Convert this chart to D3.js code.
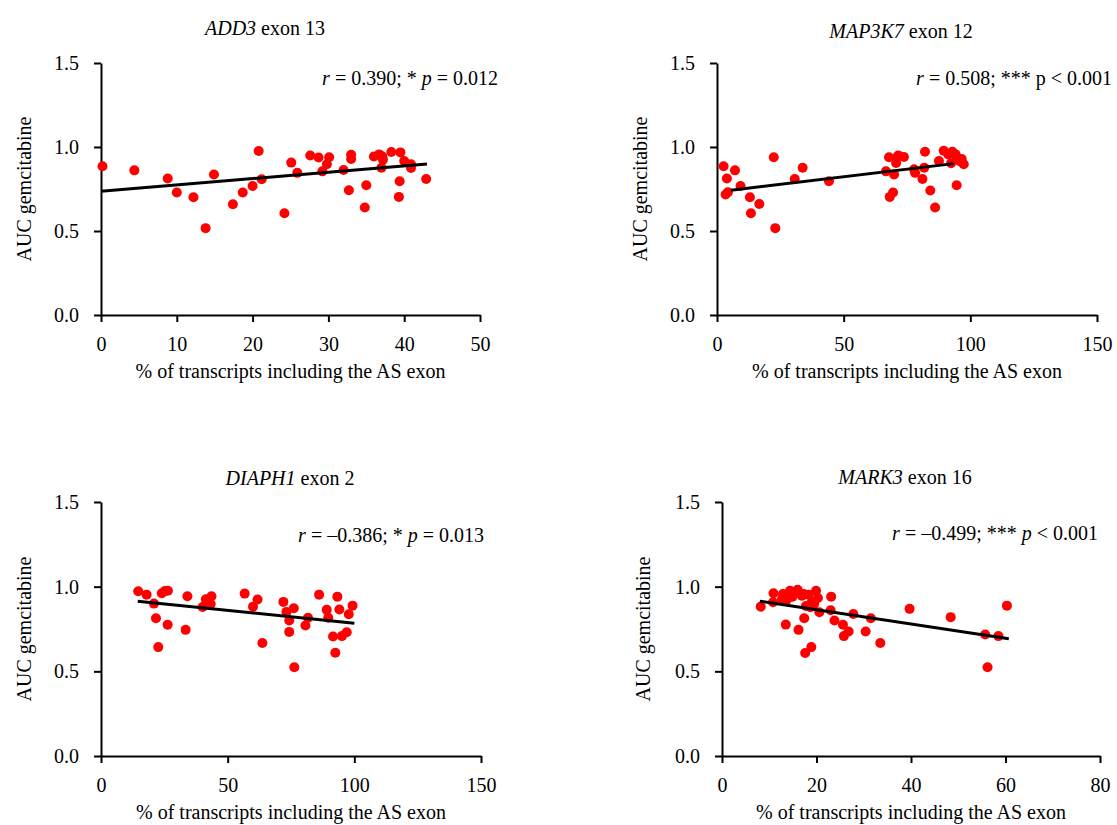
<!DOCTYPE html>
<html>
<head>
<meta charset="utf-8">
<script src="https://cdnjs.cloudflare.com/ajax/libs/d3/7.8.5/d3.min.js"></script>
<style>
body{margin:0;background:#fff;}
svg text{font-family:"Liberation Serif","Times New Roman",serif;font-size:20px;fill:#000;}
</style>
</head>
<body>
<svg width="1117" height="825"></svg>
<script>
// values
var add3_x = [0.2,4.4,8.8,10.0,12.2,13.8,14.9,17.4,18.7,20.0,20.8,21.2,24.2,25.1,25.9,27.6,28.7,29.2,29.8,30.1,32.0,32.7,33.0,33.0,35.0,34.8,36.0,36.7,37.1,37.2,37.0,38.3,39.5,39.4,39.3,40.0,40.9,40.9,42.9]
var add3_y = [0.885,0.861,0.812,0.729,0.701,0.517,0.836,0.659,0.729,0.768,0.976,0.808,0.606,0.907,0.846,0.949,0.937,0.855,0.897,0.939,0.863,0.743,0.954,0.929,0.772,0.640,0.943,0.956,0.945,0.925,0.877,0.970,0.968,0.796,0.703,0.917,0.897,0.875,0.810]
var add3_fit = [0, 0.737, 43, 0.899]

var map3k7_x = [2.6,3.9,3.4,4.3,7.1,9.3,13.0,13.4,16.7,22.4,23.0,30.7,33.8,44.2,66.7,67.9,68.2,69.5,69.9,70.7,71.2,71.6,73.8,77.8,78.2,81.1,81.8,82.1,84.2,86.1,87.6,89.5,91.3,92.4,92.9,94.2,94.7,94.6,95.9,96.6,97.4]
var map3k7_y = [0.885,0.812,0.717,0.731,0.861,0.768,0.701,0.606,0.661,0.939,0.517,0.810,0.877,0.796,0.855,0.939,0.703,0.729,0.836,0.905,0.941,0.950,0.941,0.867,0.846,0.810,0.877,0.972,0.741,0.640,0.917,0.978,0.956,0.903,0.972,0.956,0.937,0.772,0.915,0.929,0.897]
var map3k7_fit = [5.5, 0.743, 93.4, 0.901]

var diaph1_x = [14.7,18.0,20.9,21.7,22.6,24.0,25.3,26.4,26.3,33.4,34.1,40.1,41.4,42.4,43.6,43.3,56.7,60.0,61.8,63.7,72.0,73.2,74.3,74.3,76.1,76.3,80.7,81.7,86.1,89.1,89.7,91.6,92.5,93.3,94.1,95.1,97.0,97.8,99.3]
var diaph1_y = [0.973,0.953,0.900,0.814,0.643,0.961,0.975,0.976,0.775,0.745,0.943,0.880,0.925,0.902,0.943,0.898,0.959,0.882,0.924,0.667,0.910,0.851,0.800,0.733,0.873,0.524,0.771,0.816,0.953,0.863,0.816,0.706,0.610,0.941,0.865,0.708,0.731,0.837,0.888]
var diaph1_fit = [14.5, 0.914, 100, 0.784]

var mark3_x = [8.2,10.8,10.9,12.9,13.5,13.7,14.4,14.9,16.0,16.2,16.9,17.4,17.6,17.75,18.3,18.9,19.0,19.9,20.3,20.6,23.1,23.0,23.8,25.6,25.8,26.8,27.8,30.4,31.5,33.5,39.7,48.4,55.7,56.2,58.5,60.3,12.7,17.3,19.5,18.7]
var mark3_y = [0.882,0.908,0.961,0.957,0.776,0.922,0.976,0.941,0.982,0.745,0.947,0.814,0.608,0.886,0.953,0.643,0.908,0.976,0.933,0.849,0.941,0.861,0.800,0.775,0.708,0.735,0.839,0.735,0.814,0.667,0.869,0.820,0.718,0.524,0.708,0.888,0.927,0.957,0.898,0.878]
var mark3_fit = [8.0, 0.914, 60.7, 0.692]

var yTicks = [0, 0.5, 1.0, 1.5]
var add3_ticks = [0,10,20,30,40,50]
var map3k7_ticks = [0,50,100,150]
var diaph1_ticks = [0,50,100,150]
var mark3_ticks = [0,20,40,60,80]

var xLabel = "% of transcripts including the AS exon"
var yLabel = "AUC gemcitabine"

var svg = d3.select("svg");

var panels = [
  {gene:"ADD3", exon:" exon 13", xs:add3_x, ys:add3_y, fit:add3_fit, ticks:add3_ticks,
   stat:[["r",1],[" = 0.390; * ",0],["p",1],[" = 0.012",0]],
   left:101, right:480, top:63, bottom:315, titleX:265, titleY:35, statX:498, statY:85, ylabX:31},
  {gene:"MAP3K7", exon:" exon 12", xs:map3k7_x, ys:map3k7_y, fit:map3k7_fit, ticks:map3k7_ticks,
   stat:[["r",1],[" = 0.508; *** p < 0.001",0]],
   left:717, right:1097, top:63, bottom:315, titleX:901, titleY:38, statX:1112, statY:85, ylabX:647},
  {gene:"DIAPH1", exon:" exon 2", xs:diaph1_x, ys:diaph1_y, fit:diaph1_fit, ticks:diaph1_ticks,
   stat:[["r",1],[" = \u20130.386; * ",0],["p",1],[" = 0.013",0]],
   left:101, right:481, top:502, bottom:756, titleX:290, titleY:485, statX:484, statY:542, ylabX:31},
  {gene:"MARK3", exon:" exon 16", xs:mark3_x, ys:mark3_y, fit:mark3_fit, ticks:mark3_ticks,
   stat:[["r",1],[" = \u20130.499; *** ",0],["p",1],[" < 0.001",0]],
   left:722, right:1100, top:502, bottom:756, titleX:905, titleY:484, statX:1098, statY:540, ylabX:650}
];

panels.forEach(function(p){
  var ticks = p.ticks;
  var x = d3.scaleLinear().domain([ticks[0], ticks[ticks.length-1]]).range([p.left, p.right]);
  var y = d3.scaleLinear().domain([0, 1.5]).range([p.bottom, p.top]);
  var g = svg.append("g");

  var xa = g.append("g")
    .attr("transform", "translate(0," + p.bottom + ")")
    .call(d3.axisBottom(x).tickValues(ticks).tickSize(7).tickSizeOuter(0).tickPadding(15).tickFormat(d3.format("d")));
  var ya = g.append("g")
    .attr("transform", "translate(" + p.left + ",0)")
    .call(d3.axisLeft(y).tickValues(yTicks).tickSize(7).tickSizeOuter(0).tickPadding(15).tickFormat(d3.format(".1f")));
  [xa, ya].forEach(function(a){
    a.attr("font-size", null).attr("font-family", null);
    a.selectAll("path, line").attr("stroke", "#000").attr("stroke-width", 2);
  });

  g.selectAll("circle")
    .data(p.xs.map(function(v, i){ return [v, p.ys[i]]; }))
    .enter().append("circle")
    .attr("cx", function(d){ return x(d[0]); })
    .attr("cy", function(d){ return y(d[1]); })
    .attr("r", 5)
    .attr("fill", "#ff0000");

  g.append("path")
    .datum([[p.fit[0], p.fit[1]], [p.fit[2], p.fit[3]]])
    .attr("d", d3.line().x(function(d){ return x(d[0]); }).y(function(d){ return y(d[1]); }))
    .attr("stroke", "#000")
    .attr("stroke-width", 3)
    .attr("fill", "none");

  var t = g.append("text")
    .attr("x", p.titleX).attr("y", p.titleY)
    .attr("text-anchor", "middle");
  t.append("tspan").attr("font-style", "italic").text(p.gene);
  t.append("tspan").text(p.exon);

  var s = g.append("text")
    .attr("x", p.statX).attr("y", p.statY)
    .attr("text-anchor", "end");
  p.stat.forEach(function(part){
    s.append("tspan").attr("font-style", part[1] ? "italic" : null).text(part[0]);
  });

  g.append("text")
    .attr("x", (p.left + p.right) / 2)
    .attr("y", p.bottom + 63)
    .attr("text-anchor", "middle")
    .text(xLabel);

  g.append("text")
    .attr("transform", "translate(" + p.ylabX + "," + ((p.top + p.bottom) / 2) + ") rotate(-90)")
    .attr("text-anchor", "middle")
    .text(yLabel);
});
</script>
</body>
</html>
